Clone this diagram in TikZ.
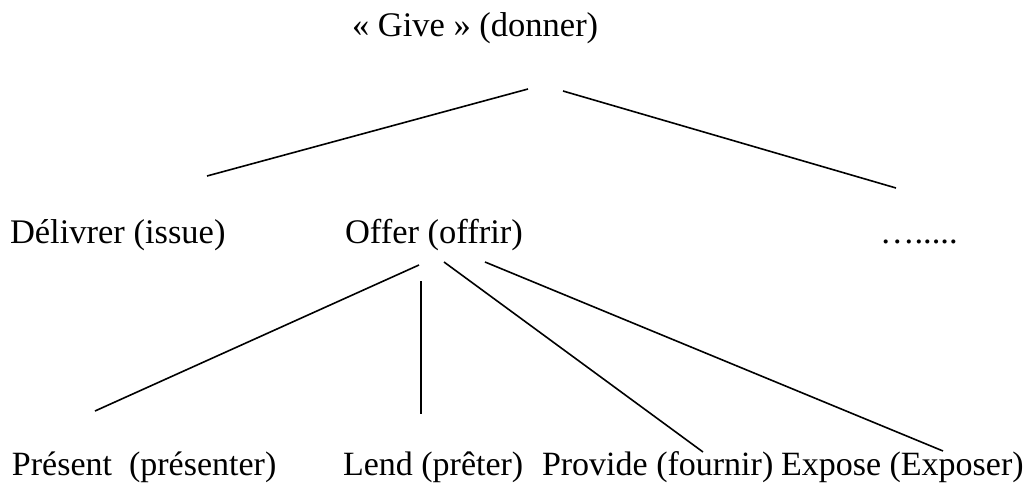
\documentclass[tikz,border=0pt]{standalone}
\usepackage{fontspec}
\setmainfont{Liberation Serif}
\begin{document}
\begin{tikzpicture}[x=1pt,y=-1pt,
  lbl/.style={anchor=base west,inner sep=0pt,outer sep=0pt,font=\fontsize{34.5}{40}\selectfont},
  lblb/.style={lbl,font=\fontsize{34}{40}\selectfont},
  edge/.style={line width=1.6pt}]
\useasboundingbox (0,0) rectangle (1036,484);
% texts
\node[lbl] (give) at (352,37) {« Give » (donner)};
\node[lbl] (deliv) at (10,243) {Délivrer (issue)};
\node[lbl] (offer) at (345,243) {Offer (offrir)};
\node[lbl] (etc) at (880,243) {….....};
\node[lblb] (pres) at (12,475) {Présent\ \ (présenter)};
\node[lblb] (lend) at (343,475) {Lend (prêter)};
\node[lblb] (prov) at (542,475) {Provide (fournir)};
\node[lblb] (expo) at (781,475) {Expose (Exposer)};
% connector ends
\coordinate (g1) at (528,89);
\coordinate (g2) at (563,91);
\coordinate (d1) at (207,176);
\coordinate (e1) at (896,188);
\coordinate (o1) at (419,265);
\coordinate (o2) at (421,281);
\coordinate (o3) at (444,262);
\coordinate (o4) at (485,262);
\coordinate (p1) at (95,411);
\coordinate (l1) at (421,414);
\coordinate (v1) at (703,452);
\coordinate (x1) at (943,451);
\draw[edge] (g1) -- (d1);
\draw[edge] (g2) -- (e1);
\draw[edge] (o1) -- (p1);
\draw[edge] (o2) -- (l1);
\draw[edge] (o3) -- (v1);
\draw[edge] (o4) -- (x1);
\end{tikzpicture}
\end{document}
